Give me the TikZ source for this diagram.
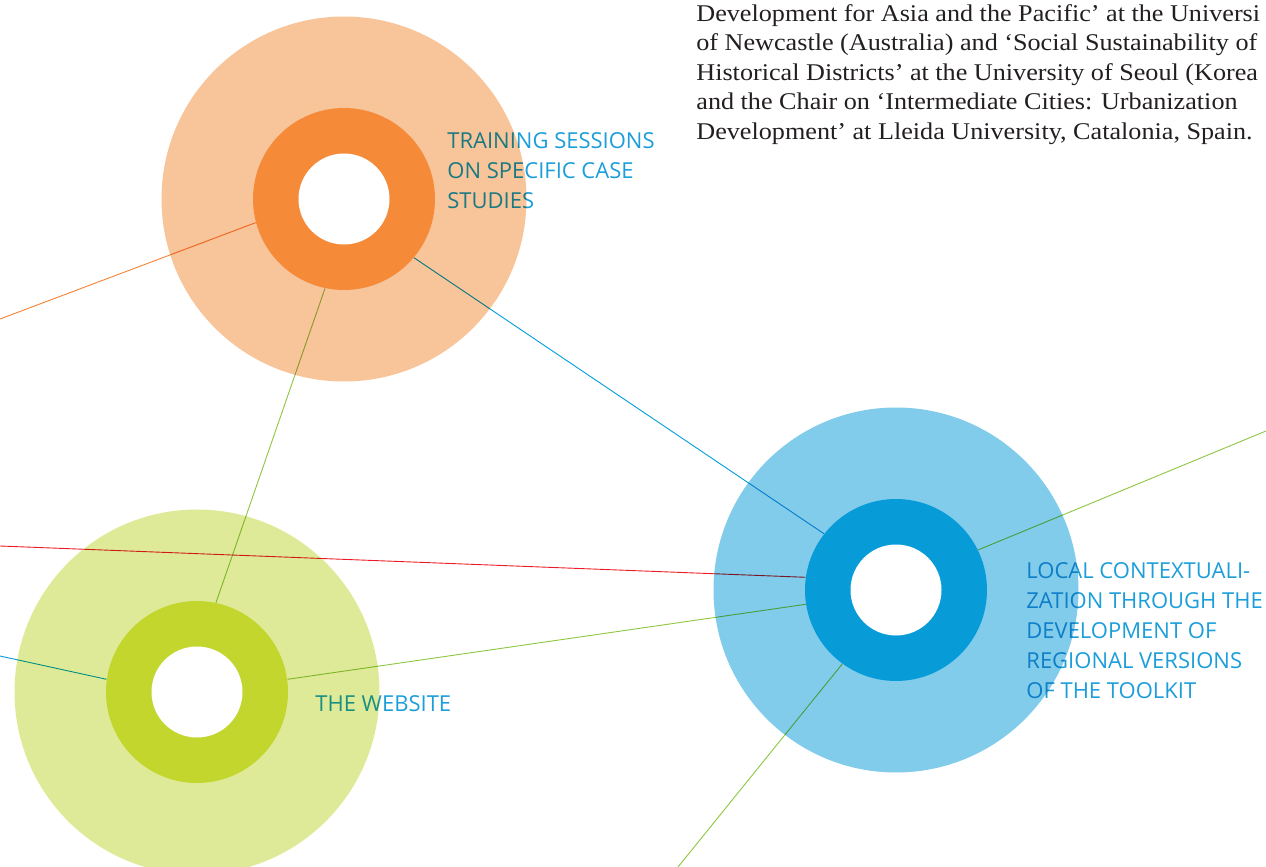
\documentclass[tikz,border=0pt]{standalone}
\usepackage{fontspec}
\usepackage{xcolor}
\usetikzlibrary{positioning}
\newfontfamily\labelfont{Open Sans}
\newfontfamily\bodyfont[FakeStretch=1.09]{Liberation Serif}
\definecolor{orangeLight}{RGB}{248,196,154}
\definecolor{orangeDark}{RGB}{245,138,56}
\definecolor{greenLight}{RGB}{223,234,152}
\definecolor{greenDark}{RGB}{194,214,46}
\definecolor{blueLight}{RGB}{130,204,235}
\definecolor{blueDark}{RGB}{7,155,216}
\definecolor{labelBlue}{RGB}{27,158,217}
\definecolor{bodyGrey}{RGB}{35,31,32}
\definecolor{lineGreen}{RGB}{141,198,63}
\definecolor{lineRed}{RGB}{237,28,36}
\definecolor{lineBlue}{RGB}{0,157,220}
\definecolor{lineOrange}{RGB}{245,130,50}

\begin{document}
\begin{tikzpicture}[x=0.5pt, y=-0.5pt,
    disc/.style={circle, inner sep=0pt, minimum size=182.5pt},
    ring/.style={circle, inner sep=0pt, minimum size=91pt},
    hole/.style={circle, fill=white, inner sep=0pt, minimum size=45.5pt},
    link/.style={line width=0.45pt},
    tag/.style={font=\labelfont\fontsize{11}{15}\selectfont, text=labelBlue,
                align=left, anchor=north west, inner sep=0pt}]

            \useasboundingbox (0,0) rectangle (1266,867);
            \clip (0,0) rectangle (1266,867);

            \foreach \n/\x/\y/\c in {T/344/199/orange, W/197/692/green, L/896/590/blue}{
                \node[disc, fill=\c Light] (D\n) at (\x,\y) {};
                \node[ring, fill=\c Dark] (R\n) at (\x,\y) {};
                \node[hole] (H\n) at (\x,\y) {};
            }

            \coordinate (edgeA) at (0,319);
            \coordinate (edgeB) at (0,546);
            \coordinate (edgeC) at (0,656);
            \coordinate (edgeD) at (1266,431);
            \coordinate (edgeE) at (678,867);

            \begin{scope}[blend mode=multiply]
            \draw[link, lineOrange] (RT.195) -- (edgeA);
            \draw[link, lineBlue] (RT.320) -- (RL.142);
            \draw[link, lineGreen] (RT.258) -- (RW.78);
            \draw[link, lineRed] (RL.172) -- (edgeB);
            \draw[link, lineBlue] (RW.172) -- (edgeC);
            \draw[link, lineGreen] (RW.8) -- (RL.189);
            \draw[link, lineGreen] (RL.26) -- (edgeD);
            \draw[link, lineGreen] (RL.234) -- (edgeE);

            \node[tag] (tTrain) at (447,132) {TRAINING SESSIONS\\ON SPECIFIC CASE\\STUDIES};
            \node[tag] (tWeb) at (315,695) {THE WEBSITE};
            \node[tag] (tLocal) at (1026,562) {LOCAL CONTEXTUALI-\\ZATION THROUGH THE\\DEVELOPMENT OF\\REGIONAL VERSIONS\\OF THE TOOLKIT};
            \end{scope}

            \node[anchor=north west, inner sep=0pt, align=left, text=bodyGrey,
                  font=\bodyfont\fontsize{12}{14.75}\selectfont] (tBody) at (696,4)
                {Development for Asia and the Pacific’ at the Universi\\
                 of Newcastle (Australia) and ‘Social Sustainability of\\
                 Historical Districts’ at the University of Seoul (Korea\\
                 and the Chair on ‘Intermediate Cities: Urbanization\\
                 Development’ at Lleida University, Catalonia, Spain.};

        \end{tikzpicture}
\end{document}
